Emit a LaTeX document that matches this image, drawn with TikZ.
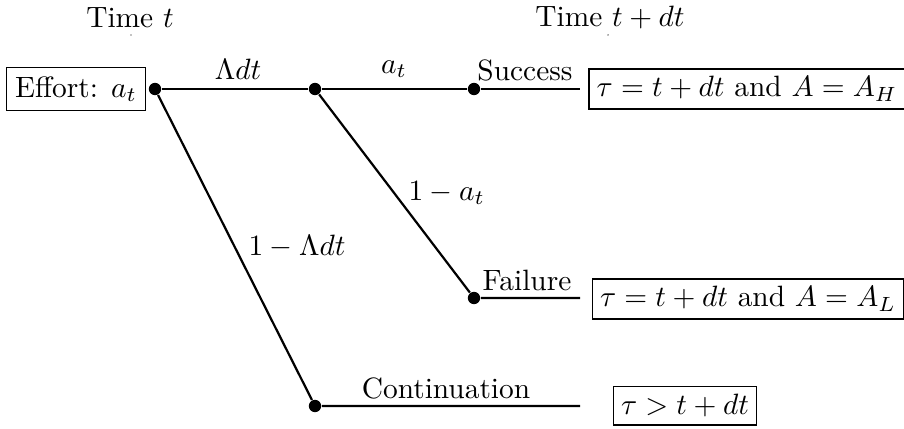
\documentclass[tikz,border=0pt]{standalone}
\begin{document}
\begin{tikzpicture}[x=0.34pt,y=-0.34pt,
  dotn/.style={circle,fill=black,inner sep=0pt,minimum size=4.2pt},
  tiny/.style={circle,fill=black,inner sep=0pt,minimum size=0.5pt},
  boxn/.style={draw,line width=0.4pt,inner sep=2.6pt},
  branch/.style={line width=0.75pt},
  lbl/.style={inner sep=1pt}]
\useasboundingbox (0,0) rectangle (904,429);
\node (tt) at (130,18) {Time $t$};
\node[tiny] (tdot1) at (131,35) {};
\node (ttdt) at (610,18) {Time $t+dt$};
\node[tiny] (tdot2) at (608,35) {};

\node[boxn,inner sep=3pt] (effort) at (76,89) {Effort: $a_t$};
\node[dotn] (A) at (155,89) {};
\node[dotn] (B) at (315,89) {};
\node[dotn] (C) at (474,89) {};
\node[dotn] (F) at (474,298) {};
\node[dotn] (K) at (315,406) {};
\coordinate (Ce) at (580,89);
\coordinate (Fe) at (580,298);
\coordinate (Ke) at (580,406);

\draw[branch] (A) -- (B) -- (C) -- (Ce);
\draw[branch] (A) -- (K) -- (Ke);
\draw[branch] (B) -- (F) -- (Fe);

\node[lbl] (l1) at (238,69) {$\Lambda dt$};
\node[lbl] (l2) at (394,69) {$a_t$};
\node[lbl] (l3) at (525,70) {Success};
\node[lbl] (l4) at (527,280) {Failure};
\node[lbl] (l5) at (446,388) {Continuation};
\node[lbl,anchor=west] (l6) at (405,193) {$1-a_t$};
\node[lbl,anchor=west] (l7) at (245,247) {$1-\Lambda dt$};

\node[boxn] (bH) at (747,89) {$\tau=t+dt$ and $A=A_H$};
\node[boxn] (bL) at (748,299) {$\tau=t+dt$ and $A=A_L$};
\node[boxn] (bC) at (685,406) {$\tau>t+dt$};
\end{tikzpicture}
\end{document}
